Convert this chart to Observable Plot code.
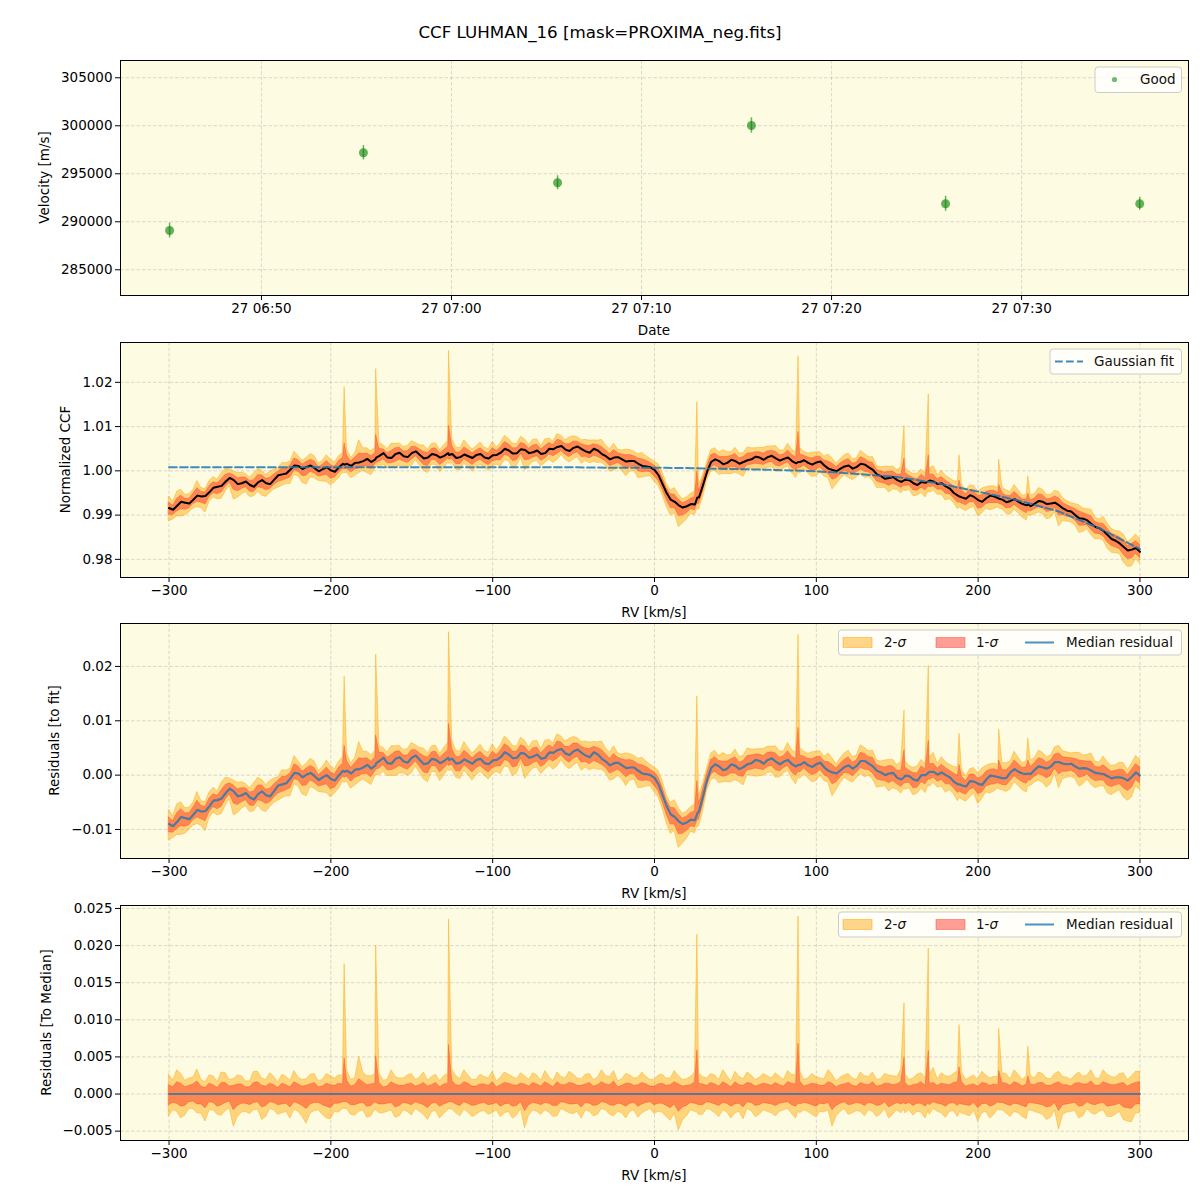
<!DOCTYPE html>
<html><head><meta charset="utf-8">
<script src="https://cdn.jsdelivr.net/npm/d3@7"></script>
<script src="https://cdn.jsdelivr.net/npm/@observablehq/plot@0.6"></script>
<style>
body{margin:0;background:#fff;font-family:"DejaVu Sans",sans-serif;min-height:1200px;}
#title{height:48px;box-sizing:border-box;padding-top:21px;text-align:center;font-size:16.7px;line-height:22px;color:#000;}
svg{display:block;overflow:visible}
</style></head><body>
<div id="title">CCF LUHMAN_16 [mask=PROXIMA_neg.fits]</div>
<div id="charts"></div>
<script>
// ---------- Panel 1: velocities ----------
const obsTimes = ["2021-03-27T06:45:10Z","2021-03-27T06:55:22Z","2021-03-27T07:05:35Z","2021-03-27T07:15:47Z","2021-03-27T07:26:00Z","2021-03-27T07:36:13Z"];
const obsVel = [289090, 297190, 294060, 300030, 291875, 291875];
const obsErr = [780, 750, 730, 800, 780, 680];
const timeTicks = ["2021-03-27T06:50:00Z","2021-03-27T07:00:00Z","2021-03-27T07:10:00Z","2021-03-27T07:20:00Z","2021-03-27T07:30:00Z"];
const timeDomain = ["2021-03-27T06:42:35Z","2021-03-27T07:38:47Z"];
const velTicks = [285000, 290000, 295000, 300000, 305000];

// ---------- CCF profiles, sampled at rv = -300, -295, ... 300 ----------
const rvGrid = d3.range(-300, 301, 5);
const ccfMedian = [0.9916,0.9921,0.9928,0.9935,0.9942,0.9952,0.9964,0.9976,0.9979,0.9972,
 0.9968,0.9974,0.9972,0.9980,0.9992,1.0003,1.0011,1.0009,1.0006,1.0004,
 1.0001,1.0008,1.0016,1.0018,1.0022,1.0020,1.0034,1.0030,1.0038,1.0033,
 1.0040,1.0036,1.0030,1.0036,1.0034,1.0038,1.0031,1.0033,1.0036,1.0030,
 1.0035,1.0041,1.0046,1.0040,1.0047,1.0042,1.0038,1.0050,1.0054,1.0048,
 1.0052,1.0049,1.0041,1.0046,1.0033,1.0030,1.0026,1.0022,1.0016,1.0010,
 1.0002,0.9970,0.9935,0.9922,0.9920,0.9924,0.9968,1.0020,1.0022,1.0018,
 1.0022,1.0020,1.0026,1.0030,1.0031,1.0028,1.0027,1.0022,1.0020,1.0018,
 1.0019,1.0012,1.0002,1.0005,1.0012,1.0009,1.0014,1.0002,0.9988,0.9984,
 0.9979,0.9980,0.9972,0.9975,0.9978,0.9970,0.9965,0.9950,0.9940,0.9945,
 0.9934,0.9938,0.9942,0.9935,0.9932,0.9930,0.9922,0.9926,0.9930,0.9926,
 0.9922,0.9910,0.9900,0.9892,0.9880,0.9870,0.9855,0.9842,0.9828,0.9822,
 0.9817];
const resMedian = [-0.0090,-0.0086,-0.0079,-0.0073,-0.0067,-0.0057,-0.0046,-0.0033,-0.0030,-0.0037,
 -0.0041,-0.0035,-0.0037,-0.0029,-0.0017,-0.0006,0.0003,0.0001,-0.0002,-0.0004,
 -0.0007,0.0000,0.0008,0.0010,0.0014,0.0012,0.0026,0.0022,0.0030,0.0025,
 0.0032,0.0028,0.0022,0.0028,0.0026,0.0030,0.0023,0.0025,0.0028,0.0022,
 0.0027,0.0033,0.0038,0.0032,0.0039,0.0034,0.0030,0.0042,0.0046,0.0040,
 0.0044,0.0041,0.0033,0.0038,0.0025,0.0022,0.0018,0.0014,0.0008,0.0002,
 -0.0005,-0.0037,-0.0072,-0.0085,-0.0087,-0.0083,-0.0039,0.0013,0.0016,0.0012,
 0.0017,0.0015,0.0022,0.0026,0.0028,0.0025,0.0025,0.0020,0.0019,0.0018,
 0.0020,0.0014,0.0005,0.0009,0.0018,0.0017,0.0026,0.0016,0.0005,0.0003,
 -0.0005,-0.0001,-0.0008,0.0000,0.0006,0.0001,0.0000,-0.0012,-0.0019,-0.0011,
 -0.0016,-0.0008,-0.0002,-0.0006,0.0005,0.0006,0.0002,0.0010,0.0014,0.0016,
 0.0024,0.0020,0.0016,0.0013,0.0008,0.0003,-0.0002,-0.0004,-0.0006,-0.0003,
 -0.0001];
const sig1Up = [.0012,.0016,.0009,.0013,.0010,.0014,.0008,.0015,.0011,.0013,
 .0009,.0016,.0010,.0012,.0014,.0009,.0013,.0011,.0015,.0010,
 .0012,.0014,.0018,.0012,.0016,.0013,.0015,.0010,.0013,.0011,
 .0014,.0012,.0010,.0015,.0013,.0018,.0011,.0014,.0010,.0013,
 .0016,.0012,.0014,.0011,.0013,.0015,.0010,.0013,.0016,.0012,
 .0014,.0011,.0015,.0012,.0013,.0017,.0011,.0014,.0012,.0013,
 .0010,.0014,.0012,.0013,.0011,.0016,.0013,.0015,.0010,.0013,
 .0016,.0011,.0014,.0012,.0013,.0015,.0010,.0014,.0017,.0012,
 .0013,.0011,.0014,.0012,.0015,.0010,.0013,.0016,.0011,.0014,
 .0013,.0015,.0012,.0016,.0014,.0011,.0013,.0015,.0016,.0012,
 .0010,.0014,.0013,.0015,.0011,.0014,.0013,.0012,.0015,.0011,
 .0016,.0012,.0014,.0013,.0017,.0011,.0014,.0012,.0015,.0013,
 .0016];
const sig2Up = [.0026,.0032,.0018,.0022,.0019,.0025,.0016,.0028,.0020,.0024,
 .0017,.0030,.0019,.0023,.0026,.0018,.0022,.0020,.0027,.0019,
 .0024,.0025,.0032,.0021,.0029,.0024,.0028,.0019,.0023,.0021,
 .0027,.0022,.0018,.0026,.0024,.0033,.0020,.0025,.0019,.0023,
 .0030,.0022,.0026,.0020,.0024,.0028,.0018,.0023,.0029,.0021,
 .0026,.0020,.0027,.0022,.0024,.0031,.0020,.0025,.0022,.0023,
 .0019,.0026,.0021,.0024,.0020,.0029,.0023,.0027,.0019,.0024,
 .0030,.0020,.0025,.0022,.0024,.0028,.0019,.0026,.0031,.0021,
 .0023,.0020,.0026,.0022,.0027,.0019,.0024,.0029,.0020,.0025,
 .0023,.0027,.0021,.0028,.0026,.0020,.0024,.0027,.0029,.0022,
 .0019,.0025,.0023,.0028,.0020,.0026,.0024,.0021,.0027,.0020,
 .0030,.0022,.0025,.0023,.0032,.0020,.0026,.0022,.0028,.0024,
 .0030];
const sig1Lo = [-.0015,-.0013,-.0016,-.0010,-.0014,-.0011,-.0017,-.0012,-.0022,-.0013,
 -.0015,-.0011,-.0016,-.0012,-.0014,-.0018,-.0013,-.0020,-.0012,-.0015,
 -.0019,-.0013,-.0011,-.0015,-.0012,-.0016,-.0014,-.0013,-.0018,-.0012,
 -.0015,-.0013,-.0019,-.0012,-.0014,-.0011,-.0016,-.0013,-.0015,-.0012,
 -.0014,-.0017,-.0013,-.0016,-.0023,-.0012,-.0015,-.0013,-.0016,-.0012,
 -.0014,-.0018,-.0013,-.0015,-.0012,-.0016,-.0014,-.0013,-.0017,-.0012,
 -.0015,-.0013,-.0019,-.0024,-.0016,-.0013,-.0015,-.0012,-.0016,-.0013,
 -.0014,-.0018,-.0012,-.0015,-.0013,-.0016,-.0012,-.0015,-.0014,-.0013,
 -.0017,-.0014,-.0022,-.0013,-.0015,-.0012,-.0016,-.0013,-.0015,-.0018,
 -.0012,-.0014,-.0016,-.0013,-.0015,-.0013,-.0017,-.0012,-.0014,-.0016,
 -.0019,-.0013,-.0015,-.0012,-.0016,-.0014,-.0018,-.0013,-.0015,-.0017,
 -.0023,-.0014,-.0012,-.0016,-.0014,-.0013,-.0017,-.0015,-.0018,-.0020,
 -.0014];
const sig2Lo = [-.0030,-.0024,-.0029,-.0020,-.0026,-.0022,-.0028,-.0023,-.0044,-.0025,
 -.0027,-.0021,-.0031,-.0022,-.0026,-.0033,-.0024,-.0040,-.0023,-.0028,
 -.0034,-.0025,-.0020,-.0029,-.0022,-.0030,-.0026,-.0024,-.0032,-.0022,
 -.0029,-.0024,-.0035,-.0023,-.0027,-.0021,-.0030,-.0025,-.0028,-.0023,
 -.0026,-.0031,-.0024,-.0029,-.0046,-.0022,-.0028,-.0025,-.0030,-.0023,
 -.0027,-.0033,-.0024,-.0028,-.0022,-.0030,-.0026,-.0024,-.0032,-.0023,
 -.0027,-.0025,-.0036,-.0049,-.0030,-.0024,-.0028,-.0022,-.0031,-.0025,
 -.0026,-.0034,-.0023,-.0028,-.0024,-.0030,-.0022,-.0027,-.0026,-.0024,
 -.0031,-.0025,-.0044,-.0024,-.0028,-.0023,-.0030,-.0024,-.0027,-.0033,
 -.0022,-.0026,-.0029,-.0025,-.0028,-.0024,-.0032,-.0023,-.0026,-.0030,
 -.0037,-.0024,-.0028,-.0022,-.0031,-.0026,-.0034,-.0024,-.0028,-.0032,
 -.0048,-.0025,-.0023,-.0030,-.0026,-.0024,-.0031,-.0028,-.0035,-.0038,
 -.0026];

// ---------- in-between samples, rv = -297.5, -292.5, ... 297.5 ----------
const rvMid = d3.range(-297.5, 300, 5);
const ccfMid = [0.9912,0.9930,0.9926,0.9944,0.9943,0.9962,0.9966,0.9984,0.9970,0.9976,
 0.9964,0.9979,0.9970,0.9990,0.9994,1.0012,1.0004,1.0012,0.9999,1.0008,
 0.9998,1.0016,1.0011,1.0019,1.0027,1.0026,1.0040,1.0029,1.0041,1.0031,
 1.0044,1.0028,1.0038,1.0030,1.0040,1.0029,1.0037,1.0029,1.0038,1.0028,
 1.0036,1.0050,1.0039,1.0049,1.0040,1.0046,1.0040,1.0049,1.0056,1.0045,
 1.0055,1.0044,1.0050,1.0038,1.0026,1.0031,1.0021,1.0022,1.0011,1.0008,
 0.9990,0.9950,0.9930,0.9917,0.9925,0.9940,0.9998,1.0026,1.0015,1.0025,
 1.0016,1.0024,1.0032,1.0025,1.0034,1.0023,1.0030,1.0017,1.0024,1.0014,
 1.0021,1.0005,0.9999,1.0010,1.0005,1.0016,1.0008,0.9992,0.9982,0.9986,
 0.9975,0.9979,0.9968,0.9973,0.9976,0.9972,0.9960,0.9944,0.9937,0.9941,
 0.9930,0.9944,0.9938,0.9929,0.9936,0.9925,0.9920,0.9932,0.9925,0.9928,
 0.9915,0.9908,0.9893,0.9888,0.9873,0.9864,0.9846,0.9836,0.9820,0.9826];
const resMid = [-0.0094,-0.0077,-0.0081,-0.0064,-0.0066,-0.0047,-0.0043,-0.0025,-0.0039,-0.0033,
 -0.0045,-0.0030,-0.0039,-0.0019,-0.0015,0.0004,-0.0004,0.0004,-0.0009,0.0000,
 -0.0010,0.0008,0.0003,0.0011,0.0019,0.0018,0.0032,0.0021,0.0033,0.0023,
 0.0036,0.0020,0.0030,0.0022,0.0032,0.0021,0.0029,0.0021,0.0030,0.0020,
 0.0028,0.0042,0.0031,0.0041,0.0032,0.0038,0.0032,0.0041,0.0048,0.0037,
 0.0047,0.0036,0.0042,0.0030,0.0018,0.0023,0.0013,0.0014,0.0003,0.0000,
 -0.0017,-0.0057,-0.0077,-0.0090,-0.0082,-0.0067,-0.0009,0.0020,0.0009,0.0020,
 0.0011,0.0020,0.0028,0.0021,0.0031,0.0020,0.0028,0.0016,0.0024,0.0015,
 0.0023,0.0008,0.0003,0.0015,0.0012,0.0026,0.0021,0.0008,0.0000,0.0004,
 -0.0008,-0.0002,-0.0010,0.0000,0.0006,0.0005,-0.0004,-0.0017,-0.0021,-0.0012,
 -0.0018,-0.0001,-0.0004,-0.0005,0.0011,0.0003,0.0002,0.0016,0.0012,0.0024,
 0.0021,0.0021,0.0012,0.0012,0.0004,0.0002,-0.0006,-0.0004,-0.0010,0.0005];
const sig1UpMid = [.0009,.0014,.0011,.0017,.0008,.0012,.0015,.0010,.0013,.0009,
 .0015,.0011,.0014,.0008,.0012,.0016,.0010,.0013,.0009,.0014,
 .0011,.0013,.0010,.0020,.0012,.0014,.0009,.0016,.0011,.0013,
 .0010,.0015,.0012,.0009,.0014,.0012,.0016,.0010,.0013,.0011,
 .0009,.0015,.0012,.0014,.0010,.0013,.0016,.0009,.0012,.0015,
 .0011,.0013,.0010,.0016,.0012,.0009,.0014,.0011,.0015,.0010,
 .0013,.0011,.0016,.0010,.0012,.0014,.0011,.0013,.0016,.0009,
 .0012,.0015,.0010,.0014,.0011,.0012,.0016,.0013,.0010,.0014,
 .0011,.0016,.0009,.0013,.0011,.0015,.0012,.0010,.0014,.0012,
 .0016,.0010,.0013,.0011,.0015,.0014,.0012,.0016,.0010,.0013,
 .0015,.0011,.0012,.0014,.0016,.0010,.0013,.0015,.0011,.0014,
 .0012,.0010,.0015,.0013,.0011,.0016,.0012,.0014,.0010,.0015];
const sig2UpMid = [.0018,.0027,.0021,.0033,.0016,.0024,.0029,.0019,.0025,.0017,
 .0030,.0021,.0028,.0015,.0023,.0031,.0019,.0026,.0017,.0027,
 .0021,.0025,.0019,.0050,.0024,.0027,.0018,.0032,.0021,.0025,
 .0019,.0029,.0023,.0017,.0027,.0024,.0032,.0019,.0026,.0021,
 .0017,.0029,.0023,.0028,.0019,.0025,.0031,.0017,.0023,.0030,
 .0021,.0026,.0019,.0032,.0023,.0017,.0027,.0021,.0029,.0019,
 .0025,.0021,.0031,.0019,.0023,.0028,.0021,.0025,.0032,.0017,
 .0023,.0029,.0019,.0027,.0021,.0023,.0031,.0025,.0019,.0027,
 .0021,.0032,.0017,.0025,.0021,.0029,.0023,.0019,.0027,.0024,
 .0033,.0019,.0026,.0021,.0035,.0028,.0023,.0031,.0019,.0025,
 .0030,.0021,.0023,.0027,.0032,.0019,.0025,.0029,.0021,.0027,
 .0023,.0019,.0029,.0025,.0021,.0032,.0023,.0027,.0019,.0030];
const sig1LoMid = [-.0012,-.0017,-.0011,-.0014,-.0019,-.0012,-.0015,-.0010,-.0016,-.0013,
 -.0012,-.0018,-.0011,-.0015,-.0013,-.0011,-.0016,-.0014,-.0012,-.0017,
 -.0013,-.0011,-.0015,-.0013,-.0017,-.0011,-.0014,-.0012,-.0016,-.0013,
 -.0011,-.0015,-.0013,-.0017,-.0012,-.0014,-.0011,-.0016,-.0013,-.0015,
 -.0012,-.0014,-.0017,-.0011,-.0015,-.0013,-.0012,-.0016,-.0011,-.0014,
 -.0013,-.0012,-.0016,-.0011,-.0015,-.0013,-.0017,-.0012,-.0014,-.0011,
 -.0013,-.0016,-.0014,-.0018,-.0012,-.0015,-.0011,-.0014,-.0012,-.0017,
 -.0013,-.0011,-.0016,-.0012,-.0014,-.0013,-.0011,-.0017,-.0012,-.0015,
 -.0013,-.0012,-.0016,-.0011,-.0014,-.0013,-.0012,-.0016,-.0011,-.0015,
 -.0014,-.0012,-.0013,-.0017,-.0011,-.0014,-.0013,-.0016,-.0015,-.0012,
 -.0014,-.0017,-.0011,-.0014,-.0013,-.0016,-.0012,-.0014,-.0018,-.0012,
 -.0015,-.0013,-.0017,-.0011,-.0015,-.0012,-.0016,-.0013,-.0019,-.0014];
const sig2LoMid = [-.0022,-.0033,-.0020,-.0026,-.0037,-.0022,-.0029,-.0019,-.0031,-.0024,
 -.0022,-.0035,-.0020,-.0028,-.0024,-.0021,-.0031,-.0026,-.0022,-.0033,
 -.0024,-.0020,-.0028,-.0024,-.0032,-.0020,-.0026,-.0022,-.0030,-.0024,
 -.0020,-.0028,-.0024,-.0033,-.0022,-.0026,-.0021,-.0031,-.0024,-.0028,
 -.0022,-.0026,-.0033,-.0020,-.0029,-.0024,-.0022,-.0031,-.0020,-.0026,
 -.0024,-.0022,-.0030,-.0020,-.0028,-.0024,-.0033,-.0022,-.0026,-.0020,
 -.0024,-.0031,-.0026,-.0036,-.0022,-.0028,-.0020,-.0026,-.0022,-.0033,
 -.0024,-.0020,-.0031,-.0022,-.0026,-.0024,-.0020,-.0033,-.0022,-.0028,
 -.0024,-.0022,-.0030,-.0020,-.0026,-.0024,-.0022,-.0031,-.0020,-.0028,
 -.0026,-.0022,-.0024,-.0033,-.0020,-.0026,-.0024,-.0031,-.0028,-.0022,
 -.0026,-.0033,-.0020,-.0026,-.0024,-.0031,-.0022,-.0026,-.0035,-.0022,
 -.0028,-.0024,-.0033,-.0020,-.0028,-.0022,-.0031,-.0024,-.0037,-.0026];

// ---------- narrow outlier spikes ----------
const spikeRv  = [-191.5, -172, -127, 26.5, 89, 154.5, 169.5, 188.5, 213, 231];
const spikeCcf = [1.0014, 1.0030, 1.0036, 0.9940, 1.0020, 0.9979, 0.9977, 0.9942, 0.9937, 0.9924];
const spikeRes = [0.0006, 0.0022, 0.0028, -0.0070, 0.0019, -0.0003, 0.0005, -0.0017, -0.0004, 0.0003];
const spikeUp1 = [.0048, .0051, .0066, .0059, .0068, .0049, .0058, .0036, .0031, .0024];
const spikeUp2 = [.0175, .0200, .0235, .0215, .0239, .0122, .0196, .0093, .0088, .0064];
const spikeLo1 = [-.0011, -.0012, -.0011, -.0014, -.0013, -.0012, -.0012, -.0013, -.0012, -.0013];
const spikeLo2 = [-.0020, -.0022, -.0020, -.0025, -.0023, -.0021, -.0022, -.0024, -.0022, -.0023];

// ---------- Gaussian fit ----------
const fitRv  = [-300,-275,-250,-225,-200,-175,-150,-125,-100,-75,-50,-25,0,25,50,75,100,125,150,175,200,225,250,275,300];
const fitVal = [1.0008,1.0008,1.0008,1.0008,1.0008,1.0008,1.0008,1.0008,1.0008,1.0008,1.0008,1.0007,1.0007,1.0006,1.0004,1.0002,0.9999,0.9993,0.9986,0.9972,0.9953,0.9933,0.9908,0.9870,0.9823];

const rvTicks = [-300, -200, -100, 0, 100, 200, 300];
const ccfTicks = [0.98, 0.99, 1.00, 1.01, 1.02];
const resTicks = [-0.01, 0.00, 0.01, 0.02];
const medTicks = [-0.005, 0.000, 0.005, 0.010, 0.015, 0.020, 0.025];

// ---------- build tables ----------
const obs = obsTimes.map((t, i) => ({t: new Date(t), v: obsVel[i], lo: obsVel[i] - obsErr[i], hi: obsVel[i] + obsErr[i]}));
const rows = rvGrid.map((rv, i) => ({rv, ccf: ccfMedian[i], res: resMedian[i], u1: sig1Up[i], u2: sig2Up[i], l1: sig1Lo[i], l2: sig2Lo[i]}))
  .concat(rvMid.map((rv, i) => ({rv, ccf: ccfMid[i], res: resMid[i], u1: sig1UpMid[i], u2: sig2UpMid[i], l1: sig1LoMid[i], l2: sig2LoMid[i]})))
  .concat(spikeRv.map((rv, i) => ({rv, ccf: spikeCcf[i], res: spikeRes[i], u1: spikeUp1[i], u2: spikeUp2[i], l1: spikeLo1[i], l2: spikeLo2[i]})))
  .sort((a, b) => a.rv - b.rv);
const fitRows = fitRv.map((rv, i) => ({rv, v: fitVal[i]}));

const BG = "#fdfbe2";
const ORANGE = "#ffa500", RED = "#ff2a1a", BLUE = "#1f77b4";
const DASH = "7.7,3.3";
const gridStyle = {stroke: "#b0b0b0", strokeOpacity: 0.6, strokeDasharray: "3.5,2", strokeWidth: 0.8};
const W = 1200, H = 282, ML = 120, MR = 12, FS = 13.5;

function panel({x, y, xTicks, yTicks, xFmt, yFmt, marks, mt, mb}) {
  return Plot.plot({
    width: W, height: H, marginLeft: ML, marginRight: MR, marginTop: mt, marginBottom: mb,
    style: {fontFamily: "DejaVu Sans", fontSize: FS + "px", background: "none", overflow: "visible", color: "black"},
    x, y,
    marks: [
      Plot.frame({fill: BG}),
      Plot.gridX(xTicks, gridStyle),
      Plot.gridY(yTicks, gridStyle),
      ...marks,
      Plot.frame({stroke: "black", strokeWidth: 1}),
      Plot.axisX(xTicks, {tickSize: 5, tickPadding: 3, tickFormat: xFmt, label: null, strokeWidth: 1}),
      Plot.axisY(yTicks, {tickSize: 5, tickPadding: 3, tickFormat: yFmt, label: null, strokeWidth: 1})
    ]
  });
}

function bands(key) {
  return [
    Plot.areaY(rows, {x: "rv", y1: d => d[key] + d.l2, y2: d => d[key] + d.u2, fill: ORANGE, fillOpacity: 0.45, stroke: ORANGE, strokeOpacity: 0.55, strokeWidth: 0.8}),
    Plot.areaY(rows, {x: "rv", y1: d => d[key] + d.l1, y2: d => d[key] + d.u1, fill: RED, fillOpacity: 0.45, stroke: RED, strokeOpacity: 0.4, strokeWidth: 0.8})
  ];
}

function labels(svg, mt, mb, xLabel, yLabel, yLabelX) {
  const g = d3.select(svg);
  const fb = H - mb;
  g.append("text").attr("x", (ML + W - MR) / 2).attr("y", fb + 35).attr("dy", "0.35em")
    .attr("text-anchor", "middle").attr("fill", "black").attr("font-size", FS).text(xLabel);
  g.append("text").attr("transform", `translate(${yLabelX},${mt + (fb - mt) / 2}) rotate(-90)`).attr("dy", "0.35em")
    .attr("text-anchor", "middle").attr("fill", "black").attr("font-size", FS).text(yLabel);
}

function legendBox(g, x0, y0, w, h) {
  g.append("rect").attr("x", x0).attr("y", y0).attr("width", w).attr("height", h).attr("rx", 3)
    .attr("fill", "white").attr("fill-opacity", 0.8).attr("stroke", "#cccccc").attr("stroke-width", 1);
}
function legendText(g, x, y, parts) {
  const t = g.append("text").attr("x", x).attr("y", y).attr("dy", "0.35em").attr("text-anchor", "start")
    .attr("fill", "#111").attr("font-size", FS);
  parts.forEach(([s, it]) => t.append("tspan").attr("font-style", it ? "italic" : "normal").text(s));
}
function sigmaLegend(svg, mt) {
  const g = d3.select(svg).append("g");
  const top = mt + 7, cy = top + 12.5;
  legendBox(g, 838.5, top, 343, 25);
  g.append("rect").attr("x", 843).attr("y", cy - 5).attr("width", 29).attr("height", 10)
    .attr("fill", ORANGE).attr("fill-opacity", 0.45).attr("stroke", ORANGE).attr("stroke-opacity", 0.5);
  legendText(g, 884, cy, [["2-", false], ["σ", true]]);
  g.append("rect").attr("x", 936).attr("y", cy - 5).attr("width", 29).attr("height", 10)
    .attr("fill", RED).attr("fill-opacity", 0.45).attr("stroke", RED).attr("stroke-opacity", 0.4);
  legendText(g, 976, cy, [["1-", false], ["σ", true]]);
  g.append("line").attr("x1", 1025).attr("x2", 1054).attr("y1", cy).attr("y2", cy)
    .attr("stroke", BLUE).attr("stroke-opacity", 0.8).attr("stroke-width", 2);
  legendText(g, 1066, cy, [["Median residual", false]]);
}

const charts = document.getElementById("charts");

// Panel 1
const p1 = panel({
  x: {type: "utc", domain: timeDomain.map(d => new Date(d))},
  y: {domain: [282320, 306800]},
  xTicks: timeTicks.map(d => new Date(d)), yTicks: velTicks,
  xFmt: d3.utcFormat("%d %H:%M"), yFmt: d3.format("d"),
  mt: 12, mb: 35,
  marks: [
    Plot.ruleX(obs, {x: "t", y1: "lo", y2: "hi", stroke: "green", strokeOpacity: 0.6, strokeWidth: 1.5}),
    Plot.dot(obs, {x: "t", y: "v", r: 4.5, fill: "green", fillOpacity: 0.6, stroke: "none"})
  ]
});
labels(p1, 12, 35, "Date", "Velocity [m/s]", 44);
{
  const g = d3.select(p1).append("g");
  legendBox(g, 1095, 19, 86.5, 25.5);
  g.append("circle").attr("cx", 1114.5).attr("cy", 31.5).attr("r", 2.6).attr("fill", "green").attr("fill-opacity", 0.55);
  legendText(g, 1140, 31.5, [["Good", false]]);
}
charts.appendChild(p1);

// Panel 2
const p2 = panel({
  x: {domain: [-330, 330]}, y: {domain: [0.9759, 1.0290]},
  xTicks: rvTicks, yTicks: ccfTicks, xFmt: d3.format("d"), yFmt: d3.format(".2f"),
  mt: 12, mb: 35,
  marks: [
    ...bands("ccf"),
    Plot.line(rows, {x: "rv", y: "ccf", stroke: "black", strokeWidth: 2}),
    Plot.line(fitRows, {x: "rv", y: "v", stroke: BLUE, strokeOpacity: 0.85, strokeWidth: 2, strokeDasharray: DASH})
  ]
});
labels(p2, 12, 35, "RV [km/s]", "Normalized CCF", 65.5);
{
  const g = d3.select(p2).append("g");
  legendBox(g, 1050, 19, 131.5, 25);
  g.append("line").attr("x1", 1055).attr("x2", 1083).attr("y1", 31.5).attr("y2", 31.5)
    .attr("stroke", BLUE).attr("stroke-opacity", 0.85).attr("stroke-width", 2).attr("stroke-dasharray", DASH);
  legendText(g, 1094, 31.5, [["Gaussian fit", false]]);
}
charts.appendChild(p2);

// Panel 3
const p3 = panel({
  x: {domain: [-330, 330]}, y: {domain: [-0.01534, 0.0279]},
  xTicks: rvTicks, yTicks: resTicks, xFmt: d3.format("d"), yFmt: d3.format(".2f"),
  mt: 11, mb: 36,
  marks: [
    ...bands("res"),
    Plot.line(rows, {x: "rv", y: "res", stroke: BLUE, strokeOpacity: 0.8, strokeWidth: 2.2})
  ]
});
labels(p3, 11, 36, "RV [km/s]", "Residuals [to fit]", 54);
sigmaLegend(p3, 11);
charts.appendChild(p3);

// Panel 4
const p4 = panel({
  x: {domain: [-330, 330]}, y: {domain: [-0.00626, 0.0254]},
  xTicks: rvTicks, yTicks: medTicks, xFmt: d3.format("d"), yFmt: d3.format(".3f"),
  mt: 11, mb: 36,
  marks: [
    Plot.areaY(rows, {x: "rv", y1: "l2", y2: "u2", fill: ORANGE, fillOpacity: 0.45, stroke: ORANGE, strokeOpacity: 0.55, strokeWidth: 0.8}),
    Plot.areaY(rows, {x: "rv", y1: "l1", y2: "u1", fill: RED, fillOpacity: 0.45, stroke: RED, strokeOpacity: 0.4, strokeWidth: 0.8}),
    Plot.line(rows, {x: "rv", y: () => 0, stroke: BLUE, strokeOpacity: 0.75, strokeWidth: 2})
  ]
});
labels(p4, 11, 36, "RV [km/s]", "Residuals [To Median]", 46);
sigmaLegend(p4, 11);
charts.appendChild(p4);
</script></body></html>
